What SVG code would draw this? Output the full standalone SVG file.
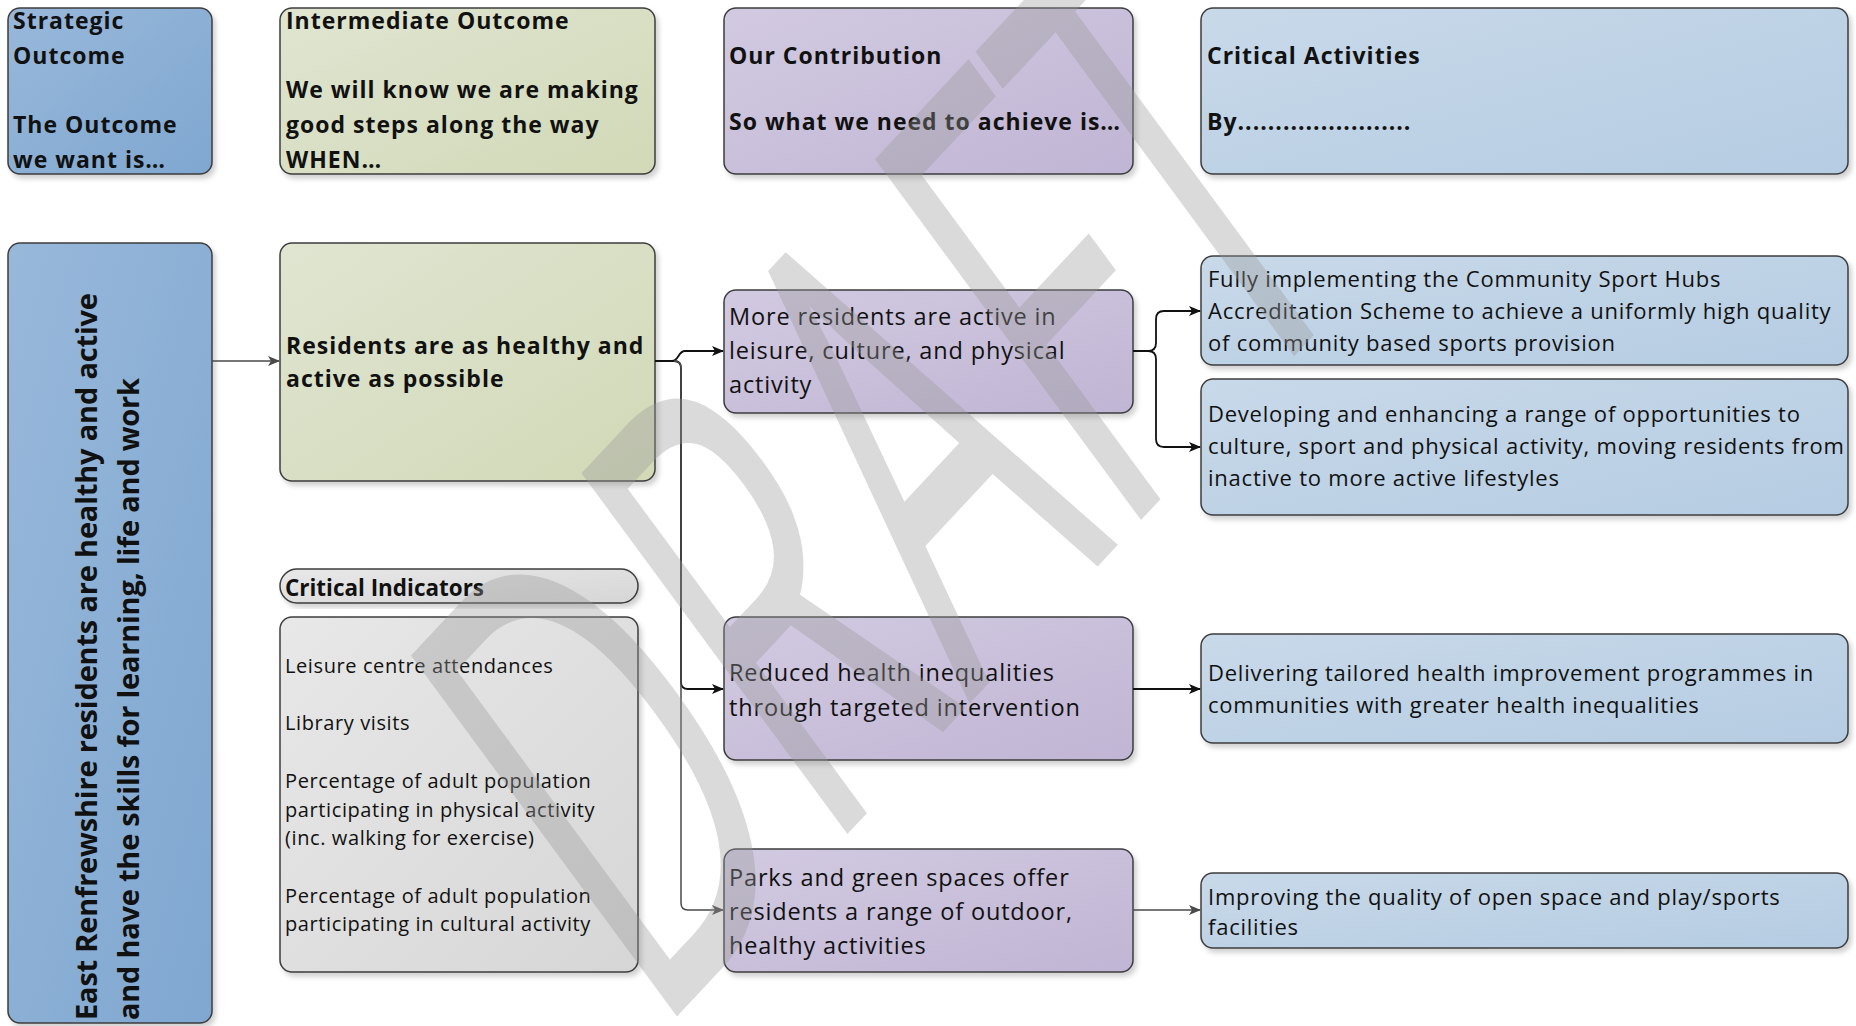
<svg xmlns="http://www.w3.org/2000/svg" width="1856" height="1026" viewBox="0 0 1856 1026">
<defs>
<linearGradient id="gBlue" x1="0" y1="0" x2="1" y2="1"><stop offset="0" stop-color="#98b8da"/><stop offset="1" stop-color="#7fa7d0"/></linearGradient>
<linearGradient id="gGreen" x1="0" y1="0" x2="1" y2="1"><stop offset="0" stop-color="#e0e5d1"/><stop offset="1" stop-color="#d1d9b7"/></linearGradient>
<linearGradient id="gPurple" x1="0" y1="0" x2="1" y2="1"><stop offset="0" stop-color="#d2cae1"/><stop offset="1" stop-color="#c0b5d4"/></linearGradient>
<linearGradient id="gLight" x1="0" y1="0" x2="1" y2="1"><stop offset="0" stop-color="#c8d9e9"/><stop offset="1" stop-color="#b5cce2"/></linearGradient>
<linearGradient id="gGray" x1="0" y1="0" x2="1" y2="1"><stop offset="0" stop-color="#e8e8e8"/><stop offset="1" stop-color="#d6d6d6"/></linearGradient>
<filter id="sh" x="-5%" y="-5%" width="115%" height="120%"><feDropShadow dx="3" dy="4" stdDeviation="2.5" flood-color="#000" flood-opacity="0.18"/></filter>
<marker id="ahB" viewBox="0 0 12 10" refX="11" refY="5" markerWidth="12" markerHeight="10" markerUnits="userSpaceOnUse" orient="auto"><path d="M0,0 L12,5 L0,10 L3,5 z" fill="#111"/></marker>
<marker id="ahG" viewBox="0 0 12 10" refX="11" refY="5" markerWidth="12" markerHeight="10" markerUnits="userSpaceOnUse" orient="auto"><path d="M0,0 L12,5 L0,10 L3,5 z" fill="#4a4a4a"/></marker>
<style>
.box{stroke:#3d3d3d;stroke-width:1.5;filter:url(#sh)}
.b{fill:url(#gBlue)}.g{fill:url(#gGreen)}.p{fill:url(#gPurple)}.l{fill:url(#gLight)}.y{fill:url(#gGray)}
text{font-family:"Open Sans","Noto Sans","Liberation Sans",sans-serif;fill:#111}
.hb{font-size:23px;font-weight:700;letter-spacing:1px}
.pr{font-size:23.5px;letter-spacing:0.85px}
.lr{font-size:22px;letter-spacing:0.77px}
.ir{font-size:20px;letter-spacing:0.6px}
.rot{font-size:29px;font-weight:700}
.cb{fill:none;stroke:#111;stroke-width:1.8;marker-end:url(#ahB)}
.cg{fill:none;stroke:#4a4a4a;stroke-width:1.5;marker-end:url(#ahG)}
.wm{font-family:"Open Sans","Noto Sans",sans-serif;font-weight:400;font-size:676px;fill:#999999;fill-opacity:0.36}
</style>
</defs>
<rect width="1856" height="1026" fill="#ffffff"/>

<g id="hdr-strategic">
<rect class="box b" x="8" y="8" width="204" height="166" rx="12"/>
<text class="hb" x="13" y="29">Strategic</text>
<text class="hb" x="13" y="64">Outcome</text>
<text class="hb" x="13" y="133">The Outcome</text>
<text class="hb" x="13" y="168">we want is…</text>
</g>
<g id="hdr-intermediate">
<rect class="box g" x="280" y="8" width="375" height="166" rx="12"/>
<text class="hb" x="286" y="29">Intermediate Outcome</text>
<text class="hb" x="286" y="98">We will know we are making</text>
<text class="hb" x="286" y="133">good steps along the way</text>
<text class="hb" x="286" y="168">WHEN…</text>
</g>
<g id="hdr-contribution">
<rect class="box p" x="724" y="8" width="409" height="166" rx="12"/>
<text class="hb" x="729" y="64">Our Contribution</text>
<text class="hb" x="729" y="130">So what we need to achieve is…</text>
</g>
<g id="hdr-activities">
<rect class="box l" x="1201" y="8" width="647" height="166" rx="12"/>
<text class="hb" x="1207" y="64">Critical Activities</text>
<text class="hb" x="1207" y="130">By.......................</text>
</g>

<g id="strategic-outcome">
<rect class="box b" x="8" y="243" width="204" height="780" rx="12"/>
<text class="rot" transform="rotate(-90)" x="-1020" y="97" textLength="727" lengthAdjust="spacing">East Renfrewshire residents are healthy and active</text>
<text class="rot" transform="rotate(-90)" x="-1020" y="139" textLength="642" lengthAdjust="spacing">and have the skills for learning, life and work</text>
</g>

<g id="intermediate-outcome">
<rect class="box g" x="280" y="243" width="375" height="238" rx="12"/>
<text class="hb" x="286" y="354">Residents are as healthy and</text>
<text class="hb" x="286" y="387">active as possible</text>
</g>

<g id="critical-indicators-header">
<rect class="box y" x="280" y="569" width="358" height="34" rx="17"/>
<text class="hb" x="285" y="596" textLength="199" lengthAdjust="spacingAndGlyphs" style="letter-spacing:0">Critical Indicators</text>
</g>
<g id="critical-indicators">
<rect class="box y" x="280" y="617" width="358" height="355" rx="12"/>
<text class="ir" x="285" y="673">Leisure centre attendances</text>
<text class="ir" x="285" y="730">Library visits</text>
<text class="ir" x="285" y="788">Percentage of adult population</text>
<text class="ir" x="285" y="817">participating in physical activity</text>
<text class="ir" x="285" y="845">(inc. walking for exercise)</text>
<text class="ir" x="285" y="903">Percentage of adult population</text>
<text class="ir" x="285" y="931">participating in cultural activity</text>
</g>

<g id="contrib-active">
<rect class="box p" x="724" y="290" width="409" height="123" rx="12"/>
<text class="pr" x="729" y="325">More residents are active in</text>
<text class="pr" x="729" y="359">leisure, culture, and physical</text>
<text class="pr" x="729" y="393">activity</text>
</g>
<g id="contrib-inequalities">
<rect class="box p" x="724" y="617" width="409" height="143" rx="12"/>
<text class="pr" x="729" y="681">Reduced health inequalities</text>
<text class="pr" x="729" y="716">through targeted intervention</text>
</g>
<g id="contrib-parks">
<rect class="box p" x="724" y="849" width="409" height="123" rx="12"/>
<text class="pr" x="729" y="886">Parks and green spaces offer</text>
<text class="pr" x="729" y="920">residents a range of outdoor,</text>
<text class="pr" x="729" y="954">healthy activities</text>
</g>

<g id="act-sport-hubs">
<rect class="box l" x="1201" y="256" width="647" height="109" rx="12"/>
<text class="lr" x="1208" y="287">Fully implementing the Community Sport Hubs</text>
<text class="lr" x="1208" y="319">Accreditation Scheme to achieve a uniformly high quality</text>
<text class="lr" x="1208" y="351">of community based sports provision</text>
</g>
<g id="act-opportunities">
<rect class="box l" x="1201" y="379" width="647" height="136" rx="12"/>
<text class="lr" x="1208" y="422">Developing and enhancing a range of opportunities to</text>
<text class="lr" x="1208" y="454">culture, sport and physical activity, moving residents from</text>
<text class="lr" x="1208" y="486">inactive to more active lifestyles</text>
</g>
<g id="act-health">
<rect class="box l" x="1201" y="634" width="647" height="109" rx="12"/>
<text class="lr" x="1208" y="681">Delivering tailored health improvement programmes in</text>
<text class="lr" x="1208" y="713">communities with greater health inequalities</text>
</g>
<g id="act-open-space">
<rect class="box l" x="1201" y="873" width="647" height="75" rx="12"/>
<text class="lr" x="1208" y="905">Improving the quality of open space and play/sports</text>
<text class="lr" x="1208" y="935">facilities</text>
</g>

<g id="connectors">
<path class="cg" d="M212,361 H279"/>
<path class="cb" d="M655,361 H672 C679,361 678,351 685,351 H723"/>
<path class="cb" d="M655,361 H674 Q681,361 681,368 V682 Q681,689 688,689 H723"/>
<path class="cg" d="M674,361 Q681,361 681,368 V903 Q681,910 688,910 H723"/>
<path class="cb" d="M1133,351 H1148 Q1156,351 1156,343 V319 Q1156,311 1164,311 H1200"/>
<path class="cb" d="M1133,351 H1148 Q1156,351 1156,359 V439 Q1156,447 1164,447 H1200"/>
<path class="cb" d="M1133,689 H1200"/>
<path class="cg" d="M1133,910 H1200"/>
</g>

<g id="watermark">
<text class="wm" transform="translate(654,1041) scale(0.83,1) rotate(-41.6) scale(0.56,1)" x="0" y="0">DRAFT</text>
</g>
</svg>
